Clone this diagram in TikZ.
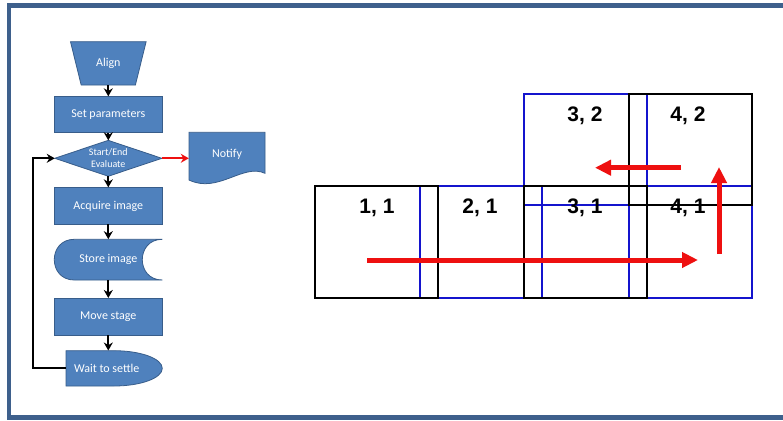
\documentclass[tikz,border=0pt]{standalone}
\usepackage{fontspec}
\setmainfont{Carlito}
\newfontfamily\gridfont{Liberation Sans}
\usetikzlibrary{arrows.meta,backgrounds}
\definecolor{fcfill}{RGB}{79,129,189}
\definecolor{fcdraw}{RGB}{56,93,138}
\definecolor{framec}{RGB}{62,96,140}
\definecolor{gblue}{RGB}{20,20,205}
\definecolor{ared}{RGB}{238,16,16}
\begin{document}
\begin{tikzpicture}[x=1pt,y=-1pt,
  box/.style={draw=fcdraw, fill=fcfill, line width=0.8pt, text=white, font=\fontsize{12}{14}\selectfont, inner sep=0pt, minimum width=108pt},
  hold/.style={inner sep=0pt, text=white, font=\fontsize{12}{14}\selectfont},
  shp/.style={draw=fcdraw, fill=fcfill, line width=0.8pt},
  flow/.style={draw=black, line width=1.8pt, -{Stealth[length=8pt,width=9pt]}},
  redflow/.style={draw=ared, line width=1.8pt, -{Stealth[length=8pt,width=9pt]}},
  tilek/.style={draw=black, line width=2pt, inner sep=0pt, minimum width=122.7pt},
  tileb/.style={draw=gblue, line width=2pt, inner sep=0pt, minimum width=122.7pt},
  lab/.style={inner sep=0pt, font={\gridfont\fontsize{21}{24}\selectfont\bfseries}},
  bigarrow/.style={draw=ared, line width=5pt, -{Triangle[length=16pt,width=15pt]}}
]
\useasboundingbox (0,0) rectangle (783,420);

% ---- flowchart ----
\node[hold, minimum width=75.7pt, minimum height=43.3pt] (align) at (108.3,63.3) {Align};
\node[box, minimum height=36pt] (setp) at (108.3,114.7) {Set parameters};
\node[hold, minimum width=106.7pt, minimum height=35.5pt, align=center, font=\fontsize{10}{12.5}\selectfont] (eval) at (108.3,158.3) {Start/End\\Evaluate};
\node[hold, minimum width=76pt, minimum height=41pt] (notify) at (227,154.5) {Notify};
\node[box, minimum height=36.3pt] (acq) at (108.3,205.9) {Acquire image};
\node[hold, minimum width=108pt, minimum height=40.7pt] (store) at (108.3,259.7) {Store image};
\node[box, minimum height=36.7pt] (move) at (108.3,316.7) {Move stage};
\node[hold, minimum width=96.3pt, minimum height=35.3pt] (wait) at (114.15,368.35) {};
\node[hold] (waitt) at (106.7,368.35) {Wait to settle};

\begin{scope}[on background layer]
  \fill[white] (0,0) rectangle (783,420);
  \draw[framec, line width=4.5pt] (9,5.5) rectangle (800,417.5);
  \draw[shp] (70.5,41.7) -- (146.1,41.7) -- (135.4,85) -- (81.2,85) -- cycle;
  \draw[shp] (eval.west) -- (eval.north) -- (eval.east) -- (eval.south) -- cycle;
  \draw[shp] (189,180) -- (189,132.3) -- (265,132.3) -- (265,173.3)
    .. controls (243,163) and (218,194) .. (189,180) -- cycle;
  \draw[shp] (162.3,239.3) -- (74.3,239.3) .. controls (47.6,239.3) and (47.6,280) .. (74.3,280)
    -- (162.3,280) .. controls (135.6,280) and (135.6,239.3) .. (162.3,239.3) -- cycle;
  \draw[shp] (66,350.7) -- (114,350.7) .. controls (140.7,350.7) and (162.3,358.6) .. (162.3,368.35)
    .. controls (162.3,378.1) and (140.7,386) .. (114,386) -- (66,386) -- cycle;
\end{scope}

\draw[flow] (align) -- (setp);
\draw[flow] (setp) -- (eval);
\draw[flow] (eval) -- (acq);
\draw[flow] (acq) -- (store);
\draw[flow] (store) -- (move);
\draw[flow] (move.south) -- (move.south |- wait.north);
\draw[redflow] (eval.east) -- (eval.east -| notify.west);
\coordinate (loopx) at (33.3,368.35);
\draw[flow] (wait.west) -- (loopx) |- (eval.west);

% ---- tiles ----
\node[tileb, minimum height=112pt] (t21) at (480.85,242) {};
\node[tileb, minimum height=112pt] (t41) at (690.5,242) {};
\node[tileb, minimum height=111pt] (t32) at (585.35,149.5) {};
\node[tilek, minimum height=112pt] (t11) at (376.35,242) {};
\node[tilek, minimum height=112pt] (t31) at (585.35,242) {};
\node[tilek, minimum height=111pt] (t42) at (690.5,149.5) {};

\node[lab] (l11) at (377,208) {1, 1};
\node[lab] (l21) at (480,208) {2, 1};
\node[lab] (l31) at (585,208) {3, 1};
\node[lab] (l41) at (688,208) {4, 1};
\node[lab] (l32) at (585,116) {3, 2};
\node[lab] (l42) at (688,116) {4, 2};

\coordinate (h1) at (367,260);
\coordinate (h2) at (698,260);
\coordinate (b1) at (681,167.7);
\coordinate (b2) at (595,167.7);
\coordinate (u1) at (719,254);
\coordinate (u2) at (719,167);
\draw[bigarrow] (h1) -- (h2);
\draw[bigarrow] (b1) -- (b2);
\draw[bigarrow] (u1) -- (u2);
\end{tikzpicture}
\end{document}
